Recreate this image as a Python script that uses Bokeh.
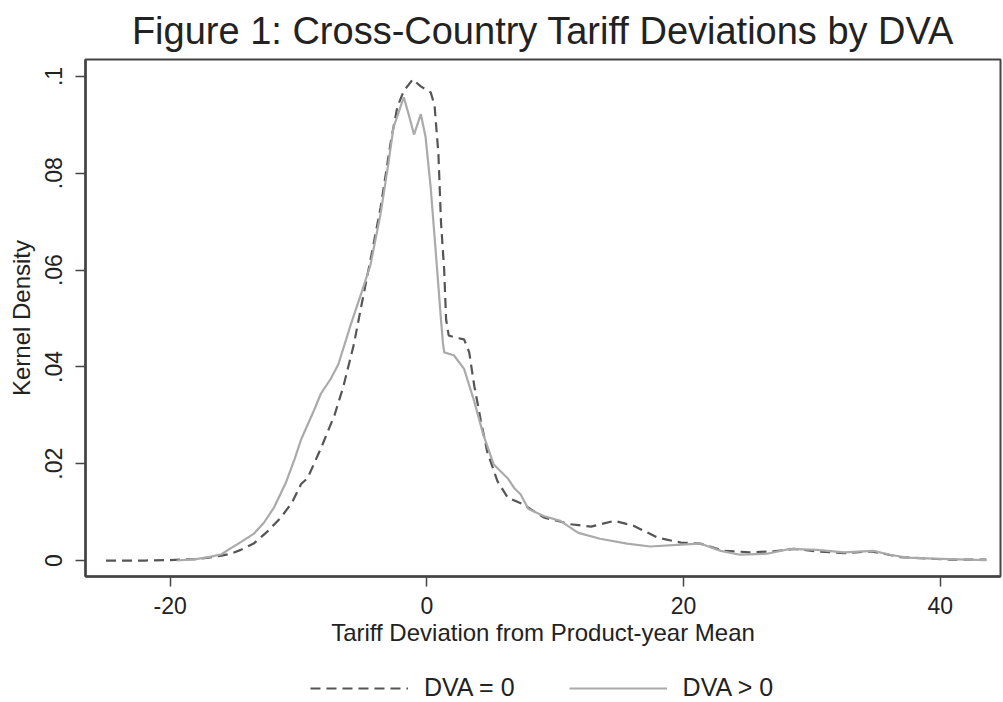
from bokeh.plotting import figure
from bokeh.layouts import column
from bokeh.models import FixedTicker, CustomJSTickFormatter, Legend, LegendItem, Title
from bokeh.embed import file_html
from bokeh.resources import INLINE

# DVA = 0 (dashed)
x_dva0 = [-25, -22, -20, -18, -17, -16, -15.3, -14.5, -13.5, -12.5, -11.4, -10.5, -9.8, -9.3,
          -8.25, -7.2, -6.5, -5.7, -5.1, -4.4, -3.6, -2.8, -2.3, -1.8, -1.1, -0.5, 0.3, 0.6,
          0.9, 1.1, 1.35, 1.5, 1.7, 2.3, 2.9, 3.3, 3.7, 4.2, 4.7, 5.5, 6.3, 7.5, 9.1, 11.2,
          12.8, 14.6, 16.1, 18.0, 19.8, 21.3, 23.1, 25.2, 27.0, 28.6, 30.4, 32.5, 34.6, 35.6,
          36.9, 39.0, 40.8, 43.6]
y_dva0 = [0.0, 0.0, 0.0001, 0.0003, 0.0006, 0.001, 0.0014, 0.0022, 0.0035, 0.0058, 0.0088,
          0.012, 0.0158, 0.017, 0.0232, 0.030, 0.036, 0.0445, 0.0527, 0.062, 0.073, 0.0867,
          0.0937, 0.097, 0.0994, 0.098, 0.0967, 0.094, 0.084, 0.070, 0.060, 0.0498, 0.0465,
          0.046, 0.0457, 0.043, 0.036, 0.029, 0.0225, 0.0164, 0.013, 0.0116, 0.0089, 0.0075,
          0.0070, 0.0082, 0.0072, 0.0047, 0.0037, 0.0035, 0.002, 0.0017, 0.0019, 0.0024,
          0.0019, 0.0015, 0.0019, 0.0014, 0.0007, 0.0004, 0.0002, 0.0002]

# DVA > 0 (solid)
x_dvap = [-19.5, -18, -17, -16, -15.3, -14.5, -13.5, -12.7, -11.9, -11.0, -10.3, -9.8, -8.8,
          -8.25, -7.5, -6.9, -5.9, -5.1, -4.4, -3.6, -3.0, -2.6, -1.8, -1.4, -1.0, -0.47,
          -0.1, 0.3, 0.7, 1.1, 1.25, 1.35, 2.1, 2.9, 3.7, 4.4, 5.2, 5.76, 6.3, 6.8, 7.3, 7.9,
          8.3, 9.1, 10.4, 11.8, 13.5, 15.6, 17.4, 19.8, 21.3, 22.9, 24.4, 26.5, 28.3, 30.4,
          32.5, 34.8, 36.1, 37.4, 39.5, 42.1, 43.6]
y_dvap = [0.0, 0.0003, 0.0007, 0.0013, 0.0025, 0.0038, 0.0055, 0.0078, 0.011, 0.016, 0.021,
          0.025, 0.031, 0.0345, 0.0375, 0.0405, 0.049, 0.0553, 0.061, 0.0717, 0.082, 0.0895,
          0.0957, 0.092, 0.088, 0.0922, 0.0875, 0.077, 0.0635, 0.0498, 0.045, 0.043, 0.0424,
          0.0396, 0.0328, 0.026, 0.0199, 0.0184, 0.017, 0.015, 0.0137, 0.0107, 0.0102,
          0.0092, 0.0082, 0.0057, 0.0045, 0.0035, 0.0029, 0.0033, 0.0035, 0.002, 0.0012,
          0.0014, 0.0024, 0.0022, 0.0017, 0.002, 0.0012, 0.0006, 0.0004, 0.0002, 0.0001]

x_ticks = [-20, 0, 20, 40]
y_ticks = [0, 0.02, 0.04, 0.06, 0.08, 0.1]
series_labels = ["DVA = 0", "DVA > 0"]

FONT = "Liberation Sans"
AXC = "#444444"
TXT = "#222222"
DASH_C = "#555555"
SOLID_C = "#aaaaaa"

p = figure(width=1003, height=660, x_range=(-26.6, 44.7), y_range=(-0.0033, 0.1035),
           output_backend="svg", toolbar_location=None,
           min_border_left=85, min_border_right=3, min_border_top=55, min_border_bottom=84)
p.title = Title(text="Figure 1: Cross-Country Tariff Deviations by DVA", align="center",
                text_font=FONT, text_font_size="38px", text_font_style="normal",
                text_color=TXT, standoff=15)
p.grid.visible = False
p.background_fill_color = "white"
p.border_fill_color = "white"
p.outline_line_color = AXC
p.outline_line_width = 2

p.line(x_dva0, y_dva0, line_color=DASH_C, line_width=2.2, line_dash="10 6")
p.line(x_dvap, y_dvap, line_color=SOLID_C, line_width=2.2)

for ax in (p.xaxis[0], p.yaxis[0]):
    ax.axis_line_color = AXC
    ax.axis_line_width = 2.5
    ax.major_tick_line_color = AXC
    ax.major_tick_line_width = 1.5
    ax.major_tick_out = 10
    ax.major_tick_in = 0
    ax.minor_tick_line_color = None
    ax.major_label_text_font = FONT
    ax.major_label_text_font_size = "23px"
    ax.major_label_text_color = TXT
    ax.axis_label_text_font = FONT
    ax.axis_label_text_font_size = "24px"
    ax.axis_label_text_font_style = "normal"
    ax.axis_label_text_color = TXT

p.xaxis.ticker = FixedTicker(ticks=x_ticks)
p.xaxis.formatter = CustomJSTickFormatter(code="return String(tick);")
p.yaxis.ticker = FixedTicker(ticks=y_ticks)
p.yaxis.formatter = CustomJSTickFormatter(code="""
if (Math.abs(tick) < 1e-9) return "0";
let s = tick.toFixed(2).replace(/^0/, "");
s = s.replace(/0$/, "");
return s;
""")
p.yaxis.major_label_orientation = "vertical"
p.xaxis.axis_label = "Tariff Deviation from Product-year Mean"
p.yaxis.axis_label = "Kernel Density"
p.xaxis.major_label_standoff = 10
p.xaxis.axis_label_standoff = 2
p.yaxis.major_label_standoff = 13
p.yaxis.axis_label_standoff = 8

# legend strip below the plot (its frame is aligned with the main plot's frame)
lg = figure(width=1003, height=42, x_range=(0, 1), y_range=(0, 1), output_backend="svg",
            toolbar_location=None, min_border=0)
lg.axis.visible = False
lg.grid.visible = False
lg.outline_line_color = None
lg.background_fill_color = "white"
lg.border_fill_color = "white"
# sample renderers kept outside the visible range; they only feed the legend
l0 = lg.line([-5, -4], [-5, -5], line_color=DASH_C, line_width=2.2, line_dash="10 6")
l1 = lg.line([-5, -4], [-5, -5], line_color=SOLID_C, line_width=2.2)
legend = Legend(items=[LegendItem(label=series_labels[0], renderers=[l0]),
                       LegendItem(label=series_labels[1], renderers=[l1])],
                orientation="horizontal", location=(225, 0),
                label_text_font=FONT, label_text_font_size="25px", label_text_color=TXT,
                glyph_width=98, glyph_height=22, label_standoff=16, spacing=54,
                border_line_color=None, background_fill_alpha=0, margin=0, padding=0)
lg.add_layout(legend)

layout = column(p, lg, spacing=0)
open("out.html", "w").write(file_html(layout, INLINE))
